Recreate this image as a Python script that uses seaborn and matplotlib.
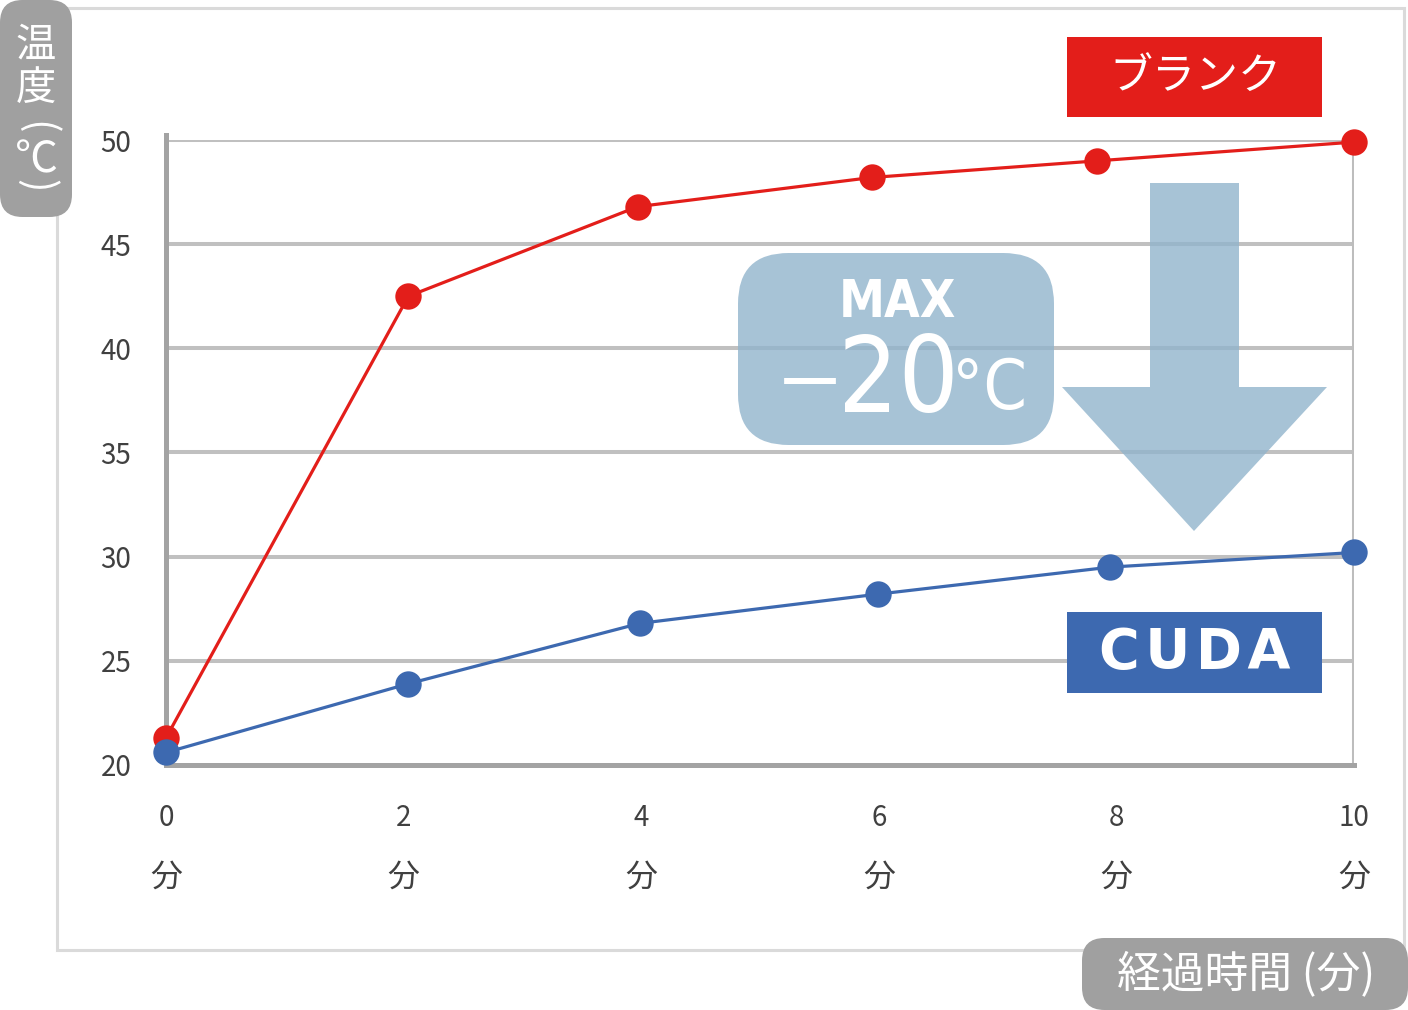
import matplotlib
matplotlib.use("Agg")
import matplotlib.pyplot as plt
import seaborn as sns
from matplotlib.patches import FancyBboxPatch, Rectangle, Polygon

# values (minutes, degC)
blank_x = [0, 2.04, 3.97, 5.94, 7.84, 10]
blank_y = [21.3, 42.5, 46.8, 48.2, 49.0, 49.9]
cuda_x = [0, 2.04, 3.99, 5.99, 7.95, 10]
cuda_y = [20.6, 23.9, 26.8, 28.2, 29.5, 30.2]
x_ticks = [0, 2, 4, 6, 8, 10]
y_ticks = [20, 25, 30, 35, 40, 45, 50]

sns.set_theme(style="white")
plt.rcParams["font.family"] = ["Noto Sans CJK JP", "DejaVu Sans"]

W, H = 1408, 1010
fig = plt.figure(figsize=(W / 100, H / 100), dpi=100)


def fx(px):
    return px / W


def fy(py):
    return 1 - py / H


def rounded(x0, y0, x1, y1, color, r=0.016, alpha=1.0):
    # box given in pixels from the top-left corner
    p = FancyBboxPatch((fx(x0), fy(y1)), fx(x1) - fx(x0), fy(y0) - fy(y1),
                       boxstyle=f"round,pad=0,rounding_size={r}",
                       mutation_aspect=W / H, transform=fig.transFigure,
                       facecolor=color, edgecolor="none", alpha=alpha, zorder=3)
    fig.patches.append(p)


# outer light frame
fig.patches.append(Rectangle((fx(57), fy(950)), fx(1404) - fx(57), fy(8) - fy(950),
                             transform=fig.transFigure, fill=False,
                             edgecolor="#dadada", linewidth=2.2, zorder=0))

ax = fig.add_axes([fx(166), fy(765), fx(1354) - fx(166), fy(140) - fy(765)])
ax.set_facecolor("none")

sns.lineplot(x=blank_x, y=blank_y, ax=ax, color="#e31e1a", linewidth=2.3,
             marker="o", markersize=19, markeredgewidth=0, clip_on=False, zorder=5)
sns.lineplot(x=cuda_x, y=cuda_y, ax=ax, color="#3d69b0", linewidth=2.3,
             marker="o", markersize=19, markeredgewidth=0, clip_on=False, zorder=6)

ax.set_xlim(0, 10)
ax.set_ylim(20, 50)
ax.set_yticks(y_ticks)
ax.set_xticks(x_ticks)
ax.set_xticklabels([str(t) for t in x_ticks])
ax.tick_params(axis="both", length=0, labelsize=20, colors="#404040")
ax.tick_params(axis="y", pad=25)
ax.tick_params(axis="x", pad=27)

for t in y_ticks[1:]:
    ax.axhline(t, color="#c0c0c0", linewidth=2.9, zorder=1)
ax.axvline(10, color="#bdbdbd", linewidth=2.9, zorder=1)

for side in ["top", "right"]:
    ax.spines[side].set_visible(False)
for side in ["left", "bottom"]:
    ax.spines[side].set_color("#a3a3a3")
    ax.spines[side].set_linewidth(3.6)
    ax.spines[side].set_zorder(2)
ax.spines["left"].set_bounds(20, 50.25)

# second row of x labels
for t in x_ticks:
    ax.text(t, -0.18, "分", transform=ax.get_xaxis_transform(), ha="center",
            va="center", fontsize=23, color="#404040")

# y label box (vertical writing)
rounded(0, 0, 72, 217, "#a0a0a0", r=0.016)
for ch, py, fs in zip(["温", "度", "℃"], [45, 88, 160], [29, 29, 31]):
    fig.text(fx(36), fy(py), ch, ha="center", va="center", fontsize=fs,
             color="white", zorder=4)
# parentheses turned for vertical writing
fig.text(fx(36), fy(128), "(", ha="center", va="center", rotation=-90,
         fontsize=29, color="white", zorder=4)
fig.text(fx(36), fy(186), ")", ha="center", va="center", rotation=-90,
         fontsize=29, color="white", zorder=4)

# x label box
rounded(1082, 938, 1408, 1010, "#a0a0a0", r=0.016)
fig.text(fx(1246), fy(974), "経過時間 (分)", ha="center", va="center", fontsize=31.5,
         color="white", zorder=4)

# series labels
fig.patches.append(Rectangle((fx(1067), fy(117)), fx(1322) - fx(1067), fy(37) - fy(117),
                             transform=fig.transFigure, facecolor="#e31e1a",
                             edgecolor="none", zorder=3))
fig.text(fx(1195), fy(77), "ブランク", ha="center", va="center", fontsize=31,
         color="white", zorder=4)
fig.patches.append(Rectangle((fx(1067), fy(693)), fx(1322) - fx(1067), fy(612) - fy(693),
                             transform=fig.transFigure, facecolor="#3d69b0",
                             edgecolor="none", zorder=3))
fig.text(fx(1195), fy(653), "C\u200aU\u200aD\u200aA", ha="center", va="center",
         fontsize=40, fontweight="bold", family=["DejaVu Sans"], color="white", zorder=4)

# MAX -20C callout and arrow
pale = "#91b4cc"
rounded(738, 253, 1054, 445, pale, r=0.036, alpha=0.8)
arrow_px = [(1150, 183), (1239, 183), (1239, 387), (1327, 387), (1194, 531),
            (1062, 387), (1150, 387)]
fig.patches.append(Polygon([(fx(a), fy(b)) for a, b in arrow_px], closed=True,
                           transform=fig.transFigure, facecolor=pale, alpha=0.8,
                           edgecolor="none", zorder=3))
cond = dict(family=["DejaVu Sans"], fontstretch="condensed", color="white",
            zorder=4, va="center")
fig.text(fx(897), fy(303), "MAX", ha="center", fontsize=37, fontweight="semibold", **cond)
fig.text(fx(810), fy(380), "—", ha="center", va="center", fontsize=46,
         fontweight="bold", color="white", zorder=4)
fig.text(fx(898), fy(383), "20", ha="center", fontsize=76, **cond)
fig.text(fx(952), fy(390), "°C", ha="left", fontsize=50, **cond)

fig.savefig("out.png", dpi=100)
